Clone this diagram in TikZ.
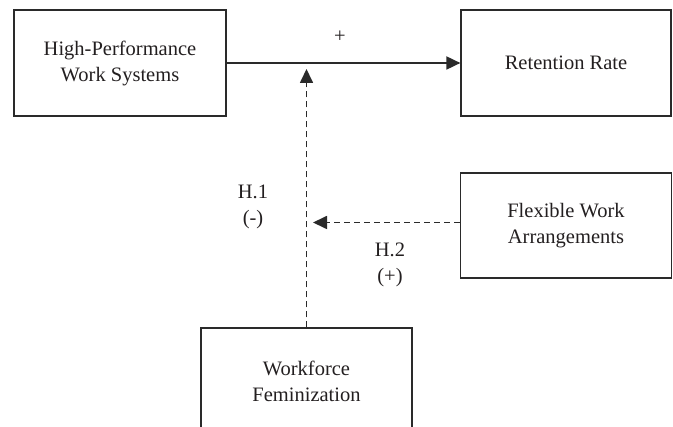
\documentclass[tikz,border=0pt]{standalone}
\usepackage{fontspec}
\setmainfont{Liberation Serif}
\usetikzlibrary{arrows.meta}
\definecolor{txt}{HTML}{231F20}
\definecolor{ln}{HTML}{2A2A2A}
\begin{document}
\begin{tikzpicture}[x=1pt,y=-1pt,
  box/.style={draw=ln,line width=1.2pt,text=txt,align=center,inner sep=0pt,
    font=\fontsize{20.5}{26}\selectfont},
  lab/.style={text=txt,align=center,inner sep=0pt,font=\fontsize{20.5}{26}\selectfont},
  arr/.style={draw=ln,line width=1.8pt,-{Triangle[length=14pt,width=13pt]}},
  darr/.style={arr,line width=1.7pt,dash pattern=on 6pt off 4pt}]
\useasboundingbox (0,0) rectangle (673,427);
\clip (0,0) rectangle (673,427);
\node[box,minimum width=212pt,minimum height=106pt] (hpws) at (120,63) {High-Performance\\Work Systems};
\node[box,minimum width=210pt,minimum height=106pt] (rr) at (566,63) {Retention Rate};
\node[box,minimum width=211pt,minimum height=105pt] (flex) at (566,225.5) {Flexible Work\\Arrangements};
\node[box,minimum width=211pt,minimum height=106pt] (wf) at (306.5,381) {Workforce\\Feminization};
\coordinate (t1) at (306.5,69);
\coordinate (t2) at (313,222.5);
\draw[arr] (hpws.east) -- (rr.west);
\draw[darr] (wf.north) -- (t1);
\draw[darr] (t2 -| flex.west) -- (t2);
\node[lab] (plus) at (340,37) {+};
\node[lab] (h1) at (253,207) {H.1\\(-)};
\node[lab] (h2) at (390,265) {H.2\\(+)};
\end{tikzpicture}
\end{document}
